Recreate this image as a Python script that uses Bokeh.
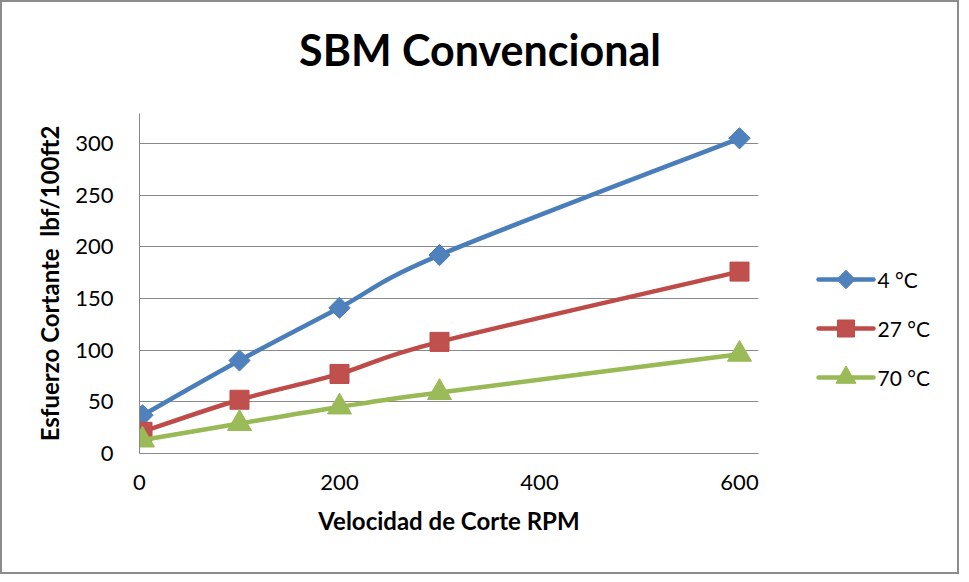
from bokeh.plotting import figure
from bokeh.layouts import column, row
from bokeh.models import ColumnDataSource, Range1d, FixedTicker
from bokeh.core.properties import value
from bokeh.embed import file_html
from bokeh.resources import INLINE

# ---- data ----
rpm = [3, 100, 200, 300, 600]
series_names = ["4 °C", "27 °C", "70 °C"]
esf_4c = [37, 90, 141, 192, 305]
esf_27c = [21, 52, 77, 108, 176]
esf_70c = [13, 29, 45, 59, 96]
x_ticks = [0, 200, 400, 600]
y_ticks = [0, 50, 100, 150, 200, 250, 300]
title_text = "SBM Convencional"
x_label = "Velocidad de Corte RPM"
y_label = "Esfuerzo Cortante\u00a0\u00a0lbf/100ft2"

line_colors = ["#4A7EBB", "#BE4B48", "#98B954"]
fill_colors = ["#4F81BD", "#C0504D", "#9BBB59"]
markers = ["square", "square", "triangle"]
angles = [0.785398, 0.0, 0.0]
sizes = [15, 19, 24]
legend_sizes = [13, 17, 20]

FONT = "Lato"
GRID = "#898989"
TOTAL_W = 955
TITLE_H = 90
MAIN_H = 480
MAIN_W = 760
LEG_W = TOTAL_W - MAIN_W
B_TOP, B_BOTTOM = 21, 119
FRAME_H = MAIN_H - B_TOP - B_BOTTOM


def bare(fig):
    fig.outline_line_color = None
    fig.background_fill_color = "white"
    fig.border_fill_color = "white"
    fig.grid.visible = False
    return fig

# ---- title strip ----
pt = bare(figure(width=TOTAL_W, height=TITLE_H, output_backend="svg",
                 toolbar_location=None, x_range=Range1d(0, TOTAL_W),
                 y_range=Range1d(TITLE_H, 0), x_axis_type=None, y_axis_type=None,
                 min_border=0))
pt.text(x=[TOTAL_W / 2], y=[47], text=[title_text], text_align="center",
        text_baseline="middle", text_font=value(FONT), text_font_style="bold",
        text_font_size="43px", text_color="black")

# ---- main plot ----
p = figure(width=MAIN_W, height=MAIN_H, output_backend="svg", toolbar_location=None,
           x_range=Range1d(0, 619), y_range=Range1d(0, 329),
           min_border_left=137, min_border_right=4,
           min_border_top=B_TOP, min_border_bottom=B_BOTTOM)
p.outline_line_color = None
p.background_fill_color = "white"
p.border_fill_color = "white"

for ax in (p.xaxis[0], p.yaxis[0]):
    ax.axis_line_color = GRID
    ax.axis_line_width = 1
    ax.major_tick_line_color = None
    ax.minor_tick_line_color = None
    ax.major_tick_out = 0
    ax.major_tick_in = 0
    ax.major_label_text_font = FONT
    ax.major_label_text_font_size = "22px"
    ax.major_label_text_color = "black"
    ax.axis_label_text_font = FONT
    ax.axis_label_text_font_style = "bold"
    ax.axis_label_text_font_size = "24px"
    ax.axis_label_text_color = "black"

p.xaxis[0].ticker = FixedTicker(ticks=x_ticks)
p.yaxis[0].ticker = FixedTicker(ticks=y_ticks)
p.xaxis[0].major_label_standoff = 21
p.yaxis[0].major_label_standoff = 26
p.xaxis[0].axis_label = x_label
p.yaxis[0].axis_label = y_label
p.xaxis[0].axis_label_standoff = 13
p.yaxis[0].axis_label_standoff = 8

p.xgrid.grid_line_color = None
p.ygrid.ticker = FixedTicker(ticks=y_ticks)
p.ygrid.grid_line_color = GRID
p.ygrid.grid_line_width = 1


def bez(xs, ys):
    # Excel-like smoothed line: Catmull-Rom control points from the data
    n = len(xs)
    d = dict(x0=[], y0=[], x1=[], y1=[], cx0=[], cy0=[], cx1=[], cy1=[])
    for i in range(n - 1):
        im = max(i - 1, 0)
        ip = min(i + 2, n - 1)
        d["x0"].append(xs[i]); d["y0"].append(ys[i])
        d["x1"].append(xs[i + 1]); d["y1"].append(ys[i + 1])
        d["cx0"].append(xs[i] + (xs[i + 1] - xs[im]) / 6.0)
        d["cy0"].append(ys[i] + (ys[i + 1] - ys[im]) / 6.0)
        d["cx1"].append(xs[i + 1] - (xs[ip] - xs[i]) / 6.0)
        d["cy1"].append(ys[i + 1] - (ys[ip] - ys[i]) / 6.0)
    return ColumnDataSource(d)


all_series = [esf_4c, esf_27c, esf_70c]
for ys, lc, fc, mk, ang, sz in zip(all_series, line_colors, fill_colors,
                                   markers, angles, sizes):
    p.bezier(x0="x0", y0="y0", x1="x1", y1="y1", cx0="cx0", cy0="cy0",
             cx1="cx1", cy1="cy1", source=bez(rpm, ys),
             line_color=lc, line_width=4.5, line_cap="round")
    p.scatter(rpm, ys, marker=mk, size=sz, angle=ang,
              fill_color=fc, line_color=lc, line_width=1)

# ---- legend strip (frame aligned with the main plot frame) ----
pl = bare(figure(width=LEG_W, height=MAIN_H, output_backend="svg",
                 toolbar_location=None, x_range=Range1d(0, LEG_W),
                 y_range=Range1d(FRAME_H, 0), x_axis_type=None, y_axis_type=None,
                 min_border_left=0, min_border_right=0,
                 min_border_top=B_TOP, min_border_bottom=B_BOTTOM))
row_y0, row_step = 166, 49
gx0, gx1 = 56, 111
for i, (name, lc, fc, mk, ang, sz) in enumerate(zip(series_names, line_colors,
                                                    fill_colors, markers, angles,
                                                    legend_sizes)):
    yy = row_y0 + i * row_step
    pl.line([gx0, gx1], [yy, yy], line_color=lc, line_width=4.5, line_cap="round")
    pl.scatter([(gx0 + gx1) / 2], [yy], marker=mk, size=sz, angle=ang,
               fill_color=fc, line_color=lc, line_width=1)
    pl.text(x=[gx1 + 4], y=[yy], text=[name], text_align="left",
            text_baseline="middle", text_font=value(FONT), text_font_size="21px",
            text_color="black")

layout = column(pt, row(p, pl, spacing=0), spacing=0)
layout.styles = {"border": "2px solid #8c8c8c"}

open("out.html", "w").write(file_html(layout, INLINE))
